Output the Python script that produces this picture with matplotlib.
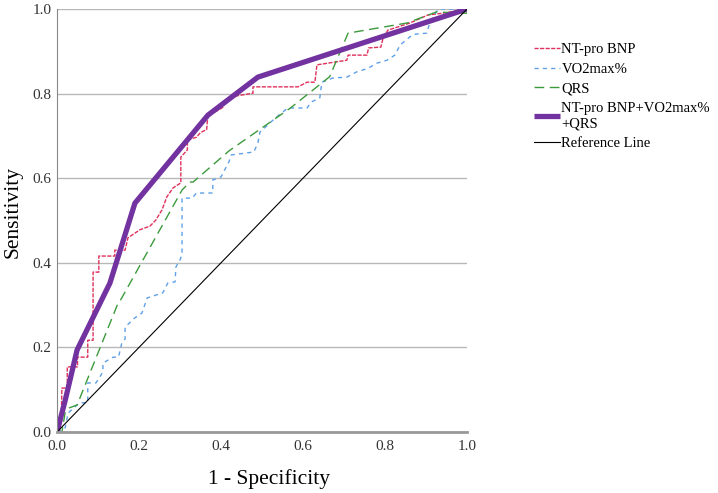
import matplotlib
matplotlib.use("Agg")
import matplotlib.pyplot as plt

# ROC curves (x = 1 - specificity, y = sensitivity)
bnp_x = [0, 0.01, 0.012, 0.025, 0.025, 0.05, 0.05, 0.075, 0.075, 0.088, 0.088, 0.102, 0.102,
         0.141, 0.141, 0.166, 0.173, 0.202, 0.227, 0.241, 0.256, 0.268, 0.283, 0.302, 0.302,
         0.318, 0.318, 0.34, 0.35, 0.365, 0.368, 0.392, 0.405, 0.41, 0.44, 0.478, 0.478,
         0.588, 0.61, 0.629, 0.634, 0.707, 0.71, 0.756, 0.76, 0.79, 0.795, 0.807, 0.861,
         0.905, 0.941, 1.0]
bnp_y = [0, 0.02, 0.104, 0.104, 0.154, 0.154, 0.177, 0.177, 0.217, 0.217, 0.378, 0.378, 0.416,
         0.416, 0.43, 0.43, 0.459, 0.478, 0.487, 0.501, 0.525, 0.556, 0.577, 0.589, 0.65,
         0.667, 0.69, 0.697, 0.708, 0.715, 0.749, 0.76, 0.768, 0.785, 0.795, 0.801, 0.816,
         0.816, 0.827, 0.827, 0.868, 0.879, 0.891, 0.891, 0.908, 0.91, 0.93, 0.95, 0.967,
         0.986, 0.99, 1.0]

vo2_x = [0, 0.02, 0.027, 0.055, 0.075, 0.075, 0.095, 0.112, 0.112, 0.137, 0.15, 0.158, 0.166,
         0.166, 0.19, 0.207, 0.22, 0.258, 0.27, 0.288, 0.29, 0.3, 0.305, 0.305, 0.33, 0.34,
         0.38, 0.38, 0.4, 0.42, 0.425, 0.48, 0.49, 0.495, 0.532, 0.563, 0.61, 0.62, 0.641,
         0.646, 0.673, 0.707, 0.73, 0.759, 0.78, 0.805, 0.824, 0.837, 0.868, 0.902, 0.91,
         0.93, 1.0]
vo2_y = [0, 0.01, 0.045, 0.069, 0.069, 0.116, 0.116, 0.142, 0.163, 0.177, 0.177, 0.21, 0.22,
         0.248, 0.27, 0.281, 0.317, 0.329, 0.352, 0.355, 0.39, 0.407, 0.42, 0.553, 0.553, 0.565,
         0.565, 0.596, 0.603, 0.64, 0.655, 0.662, 0.683, 0.709, 0.742, 0.766, 0.766, 0.78, 0.79,
         0.827, 0.837, 0.839, 0.851, 0.86, 0.872, 0.879, 0.891, 0.915, 0.94, 0.943, 0.97,
         1.0, 1.0]

qrs_x = [0, 0.012, 0.02, 0.03, 0.049, 0.149, 0.155, 0.305, 0.324, 0.332, 0.42, 0.568, 0.665,
         0.71, 0.854, 0.925, 1.0, 1.0]
qrs_y = [0, 0.0, 0.047, 0.057, 0.064, 0.305, 0.312, 0.572, 0.591, 0.591, 0.665, 0.765, 0.84,
         0.943, 0.967, 0.993, 0.99, 1.0]

comb_x = [0, 0.02, 0.049, 0.129, 0.19, 0.368, 0.49, 1.0]
comb_y = [0, 0.075, 0.194, 0.352, 0.541, 0.749, 0.839, 1.0]

ref_x = [0, 1]
ref_y = [0, 1]

ticks = [0.0, 0.2, 0.4, 0.6, 0.8, 1.0]

plt.rcParams["font.family"] = ["Liberation Serif", "DejaVu Serif"]

fig = plt.figure(figsize=(7.18, 4.93), dpi=100)
ax = fig.add_axes([0.0794, 0.1237, 0.5710, 0.8580])

ax.plot(bnp_x, bnp_y, color="#e0305c", lw=1.0, dashes=(3, 1), label="NT-pro BNP")
ax.plot(vo2_x, vo2_y, color="#5fa0e6", lw=1.0, dashes=(3, 3), label="VO2max%")
ax.plot(qrs_x, qrs_y, color="#3c9a3c", lw=1.0, dashes=(7, 4), label="QRS")
ax.plot(comb_x, comb_y, color="#7232a0", lw=3.8, solid_capstyle="butt",
        label="NT-pro BNP+VO2max%\n+QRS")
ax.plot(ref_x, ref_y, color="black", lw=0.8, label="Reference Line")

ax.set_xlim(0, 1)
ax.set_ylim(0, 1)
ax.set_xticks(ticks)
ax.set_yticks(ticks)
ax.set_xticklabels([f"{t:.1f}" for t in ticks])
ax.set_yticklabels([f"{t:.1f}" for t in ticks])
ax.tick_params(length=0, labelsize=11, colors="#333333")
ax.tick_params(axis="y", pad=4)
ax.tick_params(axis="x", pad=6)
ax.yaxis.grid(True, color="#b8b8b8", lw=1.0)
ax.set_axisbelow(True)
for s in ["top", "right"]:
    ax.spines[s].set_visible(False)
ax.spines["left"].set_color("#888888")
ax.spines["bottom"].set_color("#999999")
ax.spines["bottom"].set_linewidth(2.0)
ax.set_xlabel("1 - Specificity", fontsize=15.5)
ax.xaxis.set_label_coords(0.517, -0.088, transform=ax.transAxes)
ax.set_ylabel("Sensitivity", fontsize=15.5)
ax.yaxis.set_label_coords(-0.085, 0.52, transform=ax.transAxes)

fig.legend(loc="upper left", bbox_to_anchor=(0.725, 0.94), frameon=False,
           fontsize=10.5, handlelength=1.8, handletextpad=0.1, labelspacing=0.45)

fig.savefig("out.png", dpi=100)
